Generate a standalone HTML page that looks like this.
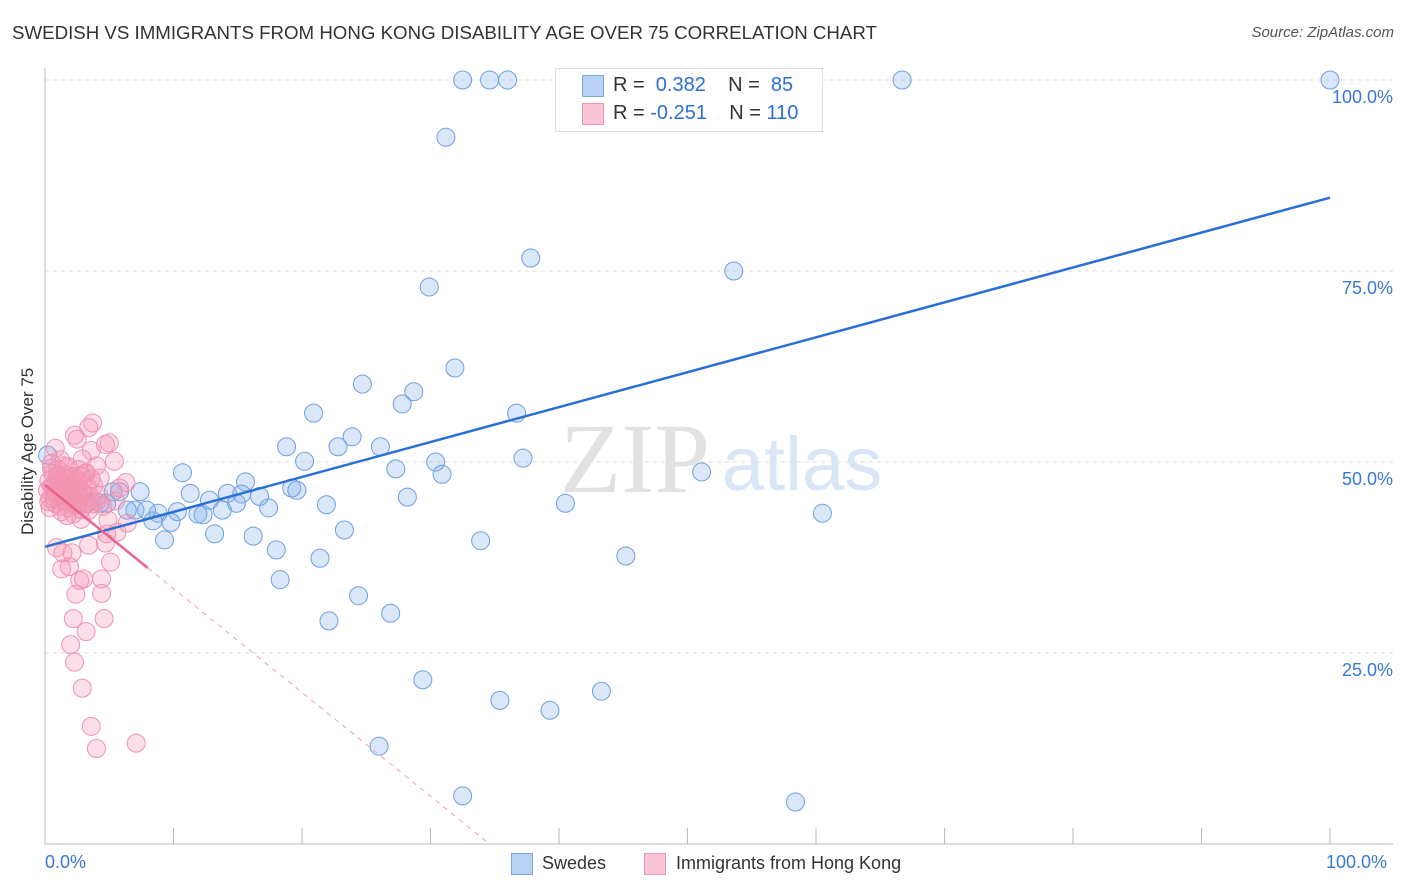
<!DOCTYPE html>
<html><head><meta charset="utf-8"><style>
body{margin:0;background:#fff;font-family:"Liberation Sans",sans-serif;}
#wrap{position:relative;width:1406px;height:892px;overflow:hidden}
.t{position:absolute;white-space:nowrap}
</style></head><body>
<div id="wrap">
<div class="t" style="left:12px;top:22px;font-size:18.7px;color:#333">SWEDISH VS IMMIGRANTS FROM HONG KONG DISABILITY AGE OVER 75 CORRELATION CHART</div>
<div class="t" style="right:12px;top:24px;font-size:15px;color:#555;font-style:italic">Source: ZipAtlas.com</div>
<div class="t" style="left:-52px;top:445px;font-size:17px;color:#333;transform:rotate(-90deg);transform-origin:center;width:160px;text-align:center">Disability Age Over 75</div>
<svg id="svg" width="1406" height="892" style="position:absolute;left:0;top:0"></svg>
<div class="t" style="left:555px;top:68px;width:266px;height:62px;border:1px solid #ddd;background:rgba(255,255,255,0.9)"></div>
<div class="t" style="left:582px;top:75px;width:20px;height:20px;background:#b7d2f5;border:1px solid #7aa7e6"></div>
<div class="t" style="left:582px;top:103px;width:20px;height:20px;background:#fac6d6;border:1px solid #ef97b2"></div>
<div class="t" style="left:613px;top:74px;font-size:20px;color:#333">R = &nbsp;<span style="color:#2d6fd6">0.382</span>&nbsp;&nbsp;&nbsp; N = &nbsp;<span style="color:#2d6fd6">85</span></div>
<div class="t" style="left:613px;top:102px;font-size:20px;color:#333">R = <span style="color:#2d6fd6">-0.251</span>&nbsp;&nbsp;&nbsp; N = <span style="color:#2d6fd6">110</span></div>
<div class="t" style="left:45px;top:852px;font-size:18px;color:#3a78d8">0.0%</div>
<div class="t" style="left:1326px;top:852px;font-size:18px;color:#3a78d8">100.0%</div>
<div class="t" style="left:511px;top:853px;width:20px;height:20px;background:#b7d2f5;border:1px solid #7aa7e6"></div>
<div class="t" style="left:542px;top:853px;font-size:18px;color:#333">Swedes</div>
<div class="t" style="left:644px;top:853px;width:20px;height:20px;background:#fac6d6;border:1px solid #ef97b2"></div>
<div class="t" style="left:676px;top:853px;font-size:18px;color:#333">Immigrants from Hong Kong</div>
</div>
<script>
const yTicks=[25,50,75,100];
const yTickLabels=["25.0%","50.0%","75.0%","100.0%"];
const xTicks=[0,10,20,30,40,50,60,70,80,90,100];
const blueX=[32.5,34.6,36.0,42.6,50.0,53.9,66.7,100,31.2,37.8,53.6,29.9,31.9,24.7,28.7,27.8,20.9,36.7,23.9,18.8,26.1,22.8,20.2,37.2,30.4,27.3,10.7,30.9,51.1,19.2,19.6,15.6,11.3,14.2,15.3,16.7,28.2,12.8,14.9,40.5,17.4,21.9,7.0,6.4,8.8,10.3,11.9,12.3,13.8,8.4,9.8,60.5,23.3,13.2,16.2,9.3,33.9,18.0,21.4,45.2,18.3,24.4,26.9,22.1,29.4,43.3,35.4,39.3,26.0,32.5,58.4,5.3,4.3,3.3,4.8,2.6,2.1,1.2,0.2,1.0,7.4,5.8,7.9];
const blueY=[100,100,100,100,100,100,100,100,92.5,76.7,75.0,72.9,62.3,60.2,59.2,57.6,56.4,56.4,53.3,52.0,52.0,52.0,50.1,50.5,50.0,49.1,48.6,48.4,48.7,46.6,46.3,47.4,45.9,45.9,45.8,45.5,45.4,45.0,44.6,44.6,44.0,44.4,43.7,43.7,43.3,43.5,43.2,43.1,43.7,42.3,42.1,43.3,41.1,40.6,40.3,39.8,39.7,38.5,37.4,37.7,34.6,32.5,30.2,29.2,21.5,20.0,18.8,17.5,12.8,6.3,5.5,46.1,44.6,44.6,44.6,44.6,45.7,46.3,50.9,48.3,46.1,46.1,43.7];
const pinkX=[0.9,1.4,2.1,3.4,4.7,5.6,1.3,1.9,2.7,3.0,4.4,2.4,4.4,2.2,4.6,3.2,2.0,2.3,2.9,3.6,4.0,7.1,5.1,4.8,3.7,3.4,2.3,5.0,2.5,0.8,3.6,5.4,2.9,1.2,1.5,0.5,4.7,4.0,6.3,5.8,3.1,4.3,5.5,4.9,2.8,1.7,3.7,6.4,0.3,0.5,0.7,0.9,1.1,1.3,1.5,1.7,1.9,2.1,2.3,2.5,2.7,2.9,3.1,3.3,0.4,0.6,0.8,1.0,1.2,1.4,1.6,1.8,2.0,2.2,2.4,2.6,2.8,3.0,3.2,3.5,0.2,0.3,0.6,0.9,1.1,1.4,1.6,1.9,2.1,2.4,2.6,2.9,3.8,4.2,0.5,1.0,1.8,2.6,0.4,1.3,2.2,3.4,4.5,1.5,0.7,1.2,2.0,2.8,3.6,4.0];
const pinkY=[38.8,38.1,38.1,39.1,39.4,40.8,36.0,36.3,34.5,34.7,34.7,32.7,32.8,29.5,29.5,27.8,26.1,23.8,20.4,15.4,12.5,13.2,36.9,40.6,55.1,54.5,53.5,52.5,53.0,51.8,51.5,50.1,50.4,50.3,49.5,49.2,52.3,49.5,47.3,46.6,48.5,47.9,44.9,42.4,42.5,43.0,44.5,42.0,47.5,46.8,46.0,47.2,45.5,46.5,47.8,45.0,46.2,47.0,44.8,46.0,45.3,47.5,44.5,46.8,45.2,48.5,44.6,48.0,44.2,45.8,48.3,44.0,45.6,48.1,44.3,47.5,43.8,45.9,48.6,45.5,46.3,44.8,47.0,45.8,46.9,44.9,46.1,47.9,45.1,46.6,44.4,46.0,46.9,45.6,49.8,49.0,49.4,49.0,44.0,43.5,43.2,43.7,44.2,46.8,45.4,47.6,46.6,48.2,47.8,44.8];
const blueTrend=[38.9,84.6];
const pinkTrend=[47.0,0];
const pinkSolidEnd=8.0, pinkEnd=34.6;

const X0=45,X1=1330,Y0=844,Y100=80;
const sx=v=>X0+(X1-X0)*v/100;
const sy=v=>Y0-(Y0-Y100)*v/100;
const svg=document.getElementById('svg');
const NS='http://www.w3.org/2000/svg';
function mk(tag,attrs){const e=document.createElementNS(NS,tag);for(const k in attrs)e.setAttribute(k,attrs[k]);svg.appendChild(e);return e;}

yTicks.forEach((t,i)=>{
  const g=mk('line',{x1:X0,x2:1393,y1:sy(t),y2:sy(t),stroke:'#ddd','stroke-dasharray':'4,4'});
  
  
  const tx=mk('text',{x:1393,y:sy(t)+23,'text-anchor':'end','font-size':18,fill:'#3a78d8','font-family':'Liberation Sans, sans-serif'});
  tx.textContent=yTickLabels[i];
  
  
});
const ax=mk('line',{x1:X0,x2:X0,y1:68,y2:Y0,stroke:'#bbb'});


const bx=mk('line',{x1:X0,x2:1393,y1:Y0,y2:Y0,stroke:'#bbb'});


xTicks.forEach(t=>{
  const l=mk('line',{x1:sx(t),x2:sx(t),y1:828,y2:Y0,stroke:'#bbb'});
  
  
});
const wm=mk('text',{x:635,y:492,'text-anchor':'middle','font-size':100,fill:'#e2e2e2','font-family':'Liberation Serif, serif'});
wm.textContent='ZIP';


const wm2=mk('text',{x:802,y:490,'text-anchor':'middle','font-size':76,fill:'#d8e6f6','font-family':'Liberation Sans, sans-serif'});
wm2.textContent='atlas';



blueX.forEach((v,i)=>{
  const c=mk('circle',{cx:sx(v),cy:sy(blueY[i]),r:9,fill:'rgba(130,175,235,0.3)',stroke:'#6e9fe2','stroke-width':1});
  
  
});
pinkX.forEach((v,i)=>{
  const c=mk('circle',{cx:sx(v),cy:sy(pinkY[i]),r:9,fill:'rgba(245,150,180,0.3)',stroke:'#ef93b0','stroke-width':1});
  
  
});
const bt=mk('line',{x1:sx(0),y1:sy(blueTrend[0]),x2:sx(100),y2:sy(blueTrend[1]),stroke:'#2b6fd6','stroke-width':2.5});


const py=x=>pinkTrend[0]+(pinkTrend[1]-pinkTrend[0])*x/pinkEnd;
const pt=mk('line',{x1:sx(0),y1:sy(py(0)),x2:sx(pinkSolidEnd),y2:sy(py(pinkSolidEnd)),stroke:'#e8648c','stroke-width':2.5});


const pd=mk('line',{x1:sx(pinkSolidEnd),y1:sy(py(pinkSolidEnd)),x2:sx(pinkEnd),y2:sy(0),stroke:'#eea0b8','stroke-width':1,'stroke-dasharray':'5,5'});


</script>
</body></html>
